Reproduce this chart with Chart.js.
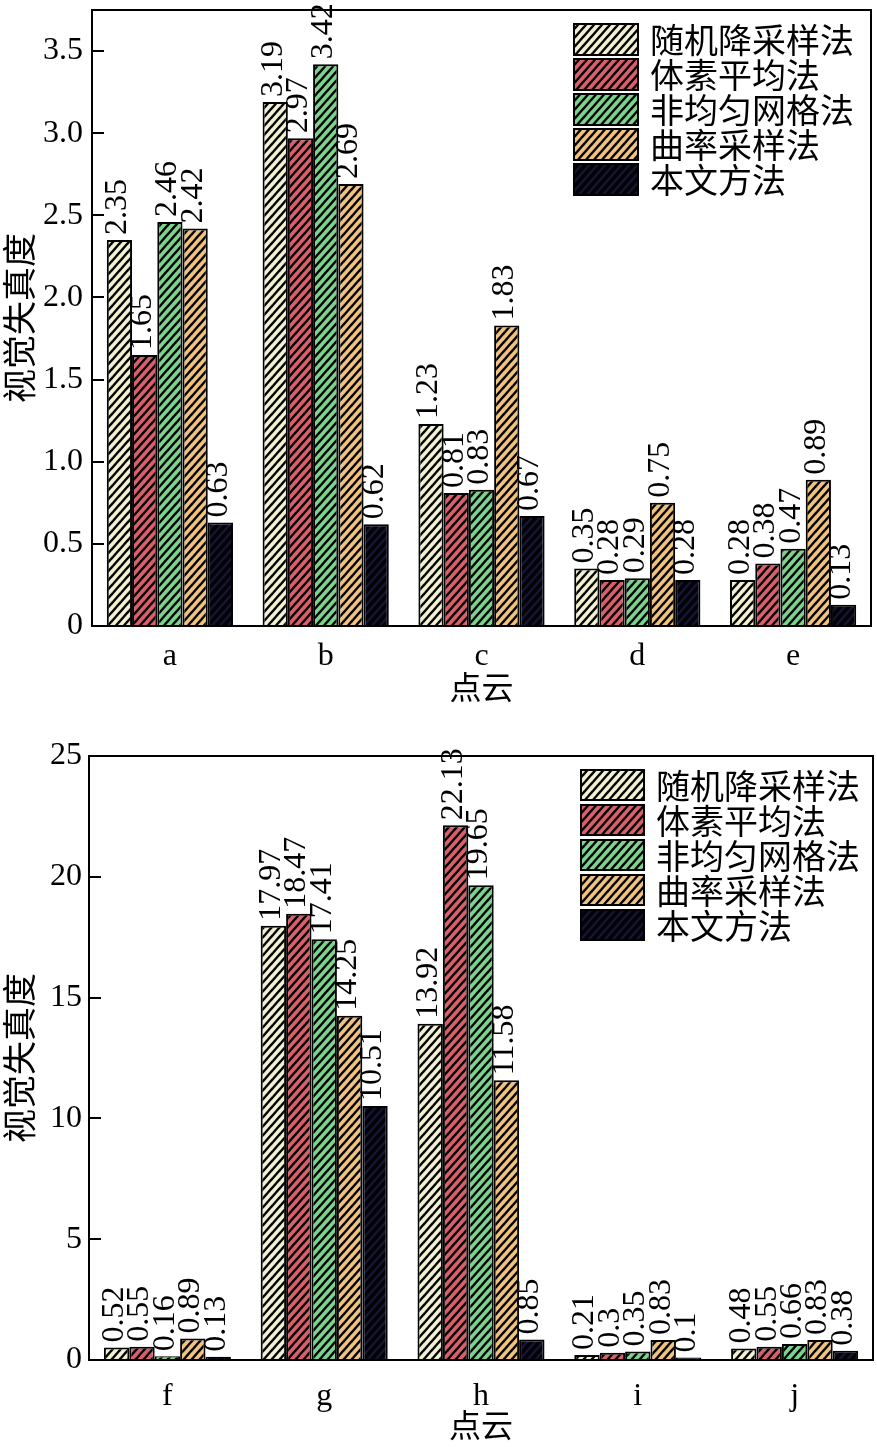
<!DOCTYPE html>
<html><head><meta charset="utf-8">
<script src="https://cdn.jsdelivr.net/npm/chart.js@4.4.0/dist/chart.umd.min.js"></script>
<style>
html,body{margin:0;padding:0;background:#fff;width:877px;height:1447px;overflow:hidden}
.wrap{position:absolute;left:0;width:877px}
#w1{top:0;height:720px}
#w2{top:720px;height:727px}
canvas{display:block}
</style></head><body>
<div class="wrap" id="w1"><canvas id="c1" width="877" height="720"></canvas></div>
<div class="wrap" id="w2"><canvas id="c2" width="877" height="727"></canvas></div>
<script>
const seriesNames = ['随机降采样法','体素平均法','非均匀网格法','曲率采样法','本文方法'];
const xTitle = '点云';
const yTitle = '视觉失真度';

const topCategories = ['a','b','c','d','e'];
const topRandom = [2.35, 3.19, 1.23, 0.35, 0.28];
const topVoxel  = [1.65, 2.97, 0.81, 0.28, 0.38];
const topGrid   = [2.46, 3.42, 0.83, 0.29, 0.47];
const topCurv   = [2.42, 2.69, 1.83, 0.75, 0.89];
const topOurs   = [0.63, 0.62, 0.67, 0.28, 0.13];
const topTickLabels = ['0','0.5','1.0','1.5','2.0','2.5','3.0','3.5'];

const bottomCategories = ['f','g','h','i','j'];
const bottomRandom = [0.52, 17.97, 13.92, 0.21, 0.48];
const bottomVoxel  = [0.55, 18.47, 22.13, 0.3, 0.55];
const bottomGrid   = [0.16, 17.41, 19.65, 0.35, 0.66];
const bottomCurv   = [0.89, 14.25, 11.58, 0.83, 0.83];
const bottomOurs   = [0.13, 10.51, 0.85, 0.1, 0.38];
const bottomTickLabels = ['0','5','10','15','20','25'];

const fillColors  = ['#f1f1d2', '#d9606a', '#7bd38e', '#f0c27f', '#020208'];
const hatchColors = ['#000000', '#000000', '#000000', '#000000', '#161632'];

function makePattern(fill, line) {
  const w = 8, h = 9;
  const c = document.createElement('canvas');
  c.width = w; c.height = h;
  const g = c.getContext('2d');
  g.fillStyle = fill; g.fillRect(0, 0, w, h);
  g.strokeStyle = line; g.lineWidth = 2.4;
  for (let k = 0; k <= 2; k++) {
    const cc = k * h;
    g.beginPath();
    g.moveTo(-w, cc + h);
    g.lineTo(2 * w, cc - 2 * h);
    g.stroke();
  }
  return document.createElement('canvas').getContext('2d').createPattern(c, 'repeat');
}
const patterns = fillColors.map((f, i) => makePattern(f, hatchColors[i]));

Chart.defaults.font.family = '"Liberation Serif", "Times New Roman", serif';
Chart.defaults.color = '#000';

const valueLabels = {
  id: 'valueLabels',
  afterDatasetsDraw(chart) {
    const ctx = chart.ctx;
    ctx.save();
    ctx.font = '32px "Liberation Serif"';
    ctx.fillStyle = '#000';
    ctx.textAlign = 'left';
    ctx.textBaseline = 'middle';
    chart.data.datasets.forEach((ds, i) => {
      chart.getDatasetMeta(i).data.forEach((bar, j) => {
        ctx.save();
        ctx.translate(bar.x - 2, bar.y - 5);
        ctx.rotate(-Math.PI / 2);
        ctx.fillText(String(ds.data[j]), 0, 0);
        ctx.restore();
      });
    });
    ctx.restore();
  }
};

const frame = {
  id: 'frame',
  afterDraw(chart) {
    const {ctx, chartArea: a} = chart;
    ctx.save();
    ctx.strokeStyle = '#000';
    ctx.lineWidth = 2;
    ctx.strokeRect(a.left, a.top, a.right - a.left, a.bottom - a.top);
    ctx.restore();
  }
};

const boxLegend = {
  id: 'boxLegend',
  afterDraw(chart, args, o) {
    const ctx = chart.ctx;
    ctx.save();
    chart.data.datasets.forEach((ds, i) => {
      const y = o.y + i * o.step;
      ctx.fillStyle = ds.backgroundColor;
      ctx.fillRect(o.x, y, o.w, o.h);
      ctx.lineWidth = 2;
      ctx.strokeStyle = '#000';
      ctx.strokeRect(o.x, y, o.w, o.h);
      ctx.fillStyle = '#000';
      ctx.font = '34px "Noto Sans CJK SC"';
      ctx.textBaseline = 'middle';
      ctx.textAlign = 'left';
      ctx.fillText(ds.label, o.textX, y + o.h / 2 + 1);
    });
    ctx.restore();
  }
};

function zeroPad(s) { s.paddingTop = 0; s.paddingBottom = 0; s.paddingLeft = 0; s.paddingRight = 0; }

function makeChart(id, cats, series, cfg) {
  const datasets = series.map((d, i) => ({
    label: seriesNames[i],
    data: d,
    backgroundColor: patterns[i],
    borderColor: '#000',
    borderWidth: 2,
    categoryPercentage: 0.81,
    barPercentage: 1
  }));
  return new Chart(document.getElementById(id), {
    type: 'bar',
    data: {labels: cats, datasets},
    options: {
      responsive: false,
      animation: false,
      devicePixelRatio: 1,
      layout: {padding: {left: 0, right: cfg.padRight, top: cfg.padTop, bottom: 0}},
      plugins: {legend: {display: false}, tooltip: {enabled: false}, boxLegend: cfg.legend},
      scales: {
        x: {
          grid: {display: false},
          border: {display: true, color: '#000', width: 2},
          ticks: {color: '#000', font: {size: 32}, padding: cfg.xPad, maxRotation: 0},
          title: {display: true, text: xTitle, color: '#000',
                  font: {size: 32, family: '"Noto Sans CJK SC"'}, padding: {top: 0, bottom: cfg.xTitlePad}},
          afterFit: s => { s.height = cfg.xHeight; zeroPad(s); }
        },
        y: {
          min: 0, max: cfg.max,
          ticks: {stepSize: cfg.step, includeBounds: false, color: '#000', font: {size: 32},
                  padding: cfg.yPad, callback: (v, i) => cfg.tickLabels[i]},
          grid: {drawOnChartArea: false, drawTicks: true, tickLength: -12, color: '#000', lineWidth: 2},
          border: {display: true, color: '#000', width: 2},
          title: {display: true, text: yTitle, color: '#000',
                  font: {size: 34, family: '"Noto Sans CJK SC"'}, padding: {top: -1, bottom: 0}},
          afterFit: s => { s.width = cfg.yWidth; zeroPad(s); }
        }
      }
    },
    plugins: [valueLabels, frame, boxLegend]
  });
}

makeChart('c1', topCategories, [topRandom, topVoxel, topGrid, topCurv, topOurs], {
  padRight: 6, padTop: 10, xHeight: 94, xPad: 3, xTitlePad: 14, yWidth: 92, yPad: 21,
  max: 3.75, step: 0.5, tickLabels: topTickLabels,
  legend: {x: 574, y: 24, w: 64, h: 31, step: 35, textX: 650}
});
makeChart('c2', bottomCategories, [bottomRandom, bottomVoxel, bottomGrid, bottomCurv, bottomOurs], {
  padRight: 4, padTop: 36, xHeight: 87, xPad: 9, xTitlePad: 3, yWidth: 89, yPad: 19,
  max: 25, step: 5, tickLabels: bottomTickLabels,
  legend: {x: 581, y: 50, w: 63, h: 30, step: 35, textX: 656}
});
</script>
</body></html>
